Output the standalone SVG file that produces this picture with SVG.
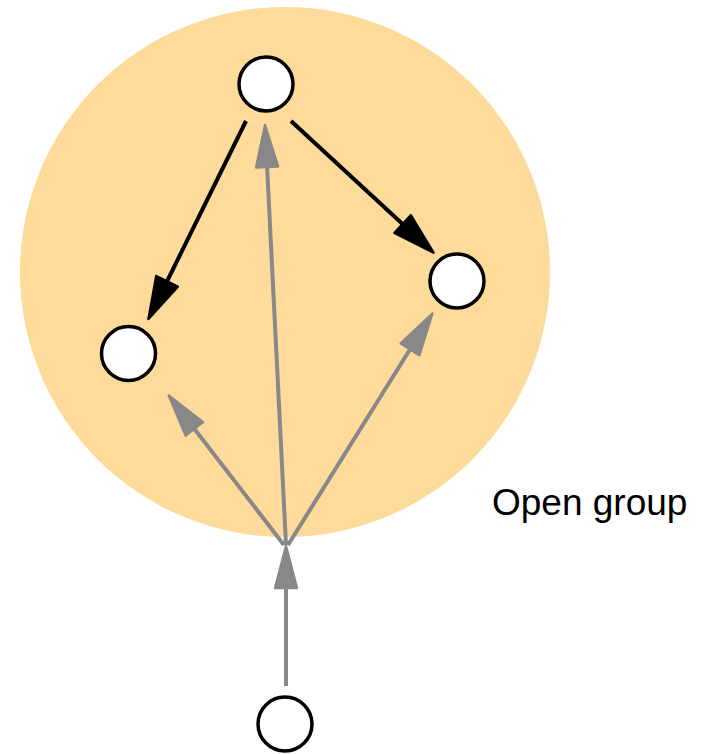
<svg xmlns="http://www.w3.org/2000/svg" width="704" height="754" viewBox="0 0 704 754">
<style>
.node{fill:#fff;stroke:#000;stroke-width:3.5}
.blk{stroke:#000;stroke-width:4;fill:none}
.gry{stroke:#888;stroke-width:4;fill:none}
.lbl{font-family:"Liberation Sans",Arial,sans-serif;font-size:37px;fill:#000}
</style>
<defs>
<marker id="ab" markerUnits="userSpaceOnUse" markerWidth="48" markerHeight="28" refX="8" refY="12" orient="auto" viewBox="-2 -2 48 28"><path d="M0,0 L42,12 L0,24 z" fill="#000" stroke="#000" stroke-width="2.5" stroke-linejoin="round"/></marker>
<marker id="ag" markerUnits="userSpaceOnUse" markerWidth="48" markerHeight="28" refX="8" refY="12" orient="auto" viewBox="-2 -2 48 28"><path d="M0,1 L42,12 L0,23 z" fill="#888" stroke="#888" stroke-width="2.5" stroke-linejoin="round"/></marker>
</defs>
<g id="group">
<circle cx="285" cy="272" r="265" fill="#fedb9b"/>
<text class="lbl" x="492" y="515">Open group</text>
</g>
<g id="connectors">
<line class="blk" x1="246" y1="121" x2="163.5" y2="288.5" marker-end="url(#ab)"/>
<line class="blk" x1="291" y1="121" x2="408.5" y2="229.5" marker-end="url(#ab)"/>
<line class="gry" x1="284" y1="545" x2="189.5" y2="422.5" marker-end="url(#ag)"/>
<line class="gry" x1="286" y1="545" x2="266.7" y2="159" marker-end="url(#ag)"/>
<line class="gry" x1="288" y1="545" x2="414.3" y2="342.5" marker-end="url(#ag)"/>
<line class="gry" x1="286" y1="686" x2="286" y2="580" marker-end="url(#ag)"/>
</g>
<g id="n_top"><circle class="node" cx="266" cy="84" r="27"/></g>
<g id="n_left"><circle class="node" cx="128.5" cy="353.5" r="27"/></g>
<g id="n_right"><circle class="node" cx="457" cy="281" r="27"/></g>
<g id="n_bottom"><circle class="node" cx="285" cy="724" r="27"/></g>
</svg>
